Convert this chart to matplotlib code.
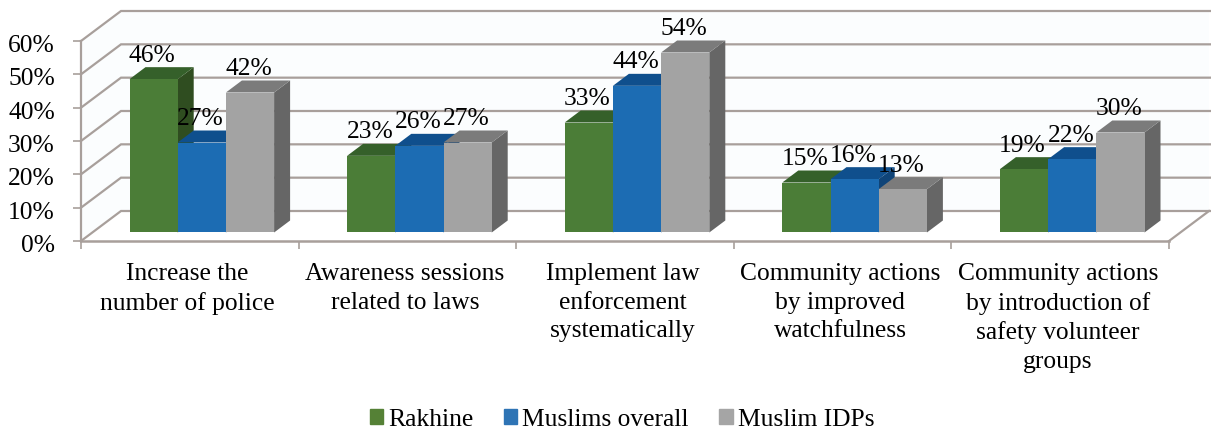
import matplotlib
matplotlib.use("Agg")
import matplotlib.pyplot as plt
from matplotlib.patches import Patch, Polygon
from matplotlib.transforms import ScaledTranslation

categories = ["Increase the\nnumber of police",
              "Awareness sessions\nrelated to laws",
              "Implement law\nenforcement\nsystematically",
              "Community actions\nby improved\nwatchfulness",
              "Community actions\nby introduction of\nsafety volunteer\ngroups"]
rakhine = [46, 23, 33, 15, 19]
muslims_overall = [27, 26, 44, 16, 22]
muslim_idps = [42, 27, 54, 13, 30]
series_names = ["Rakhine", "Muslims overall", "Muslim IDPs"]
y_ticks = [0, 10, 20, 30, 40, 50, 60]

# front, top, side, legend
green = ["#4B7D37", "#35602A", "#2F4D20", "#558136"]
blue = ["#1C6CB3", "#0F4F8D", "#0F4478", "#2E74B5"]
gray = ["#A3A3A3", "#7B7B7B", "#666666", "#A5A5A5"]
grid_col = "#A89F9B"

W, H = 1211, 429
x0, x1 = 81, 1169
y0, y1 = 241, 41
px_x = (x1 - x0) / 5.0
px_y = (y0 - y1) / 60.0
FS = 18.4

def dx(p):
    return p / px_x
def dy(p):
    return p / px_y

plt.rcParams['font.family'] = ['Liberation Serif', 'DejaVu Serif']
fig = plt.figure(figsize=(W / 100, H / 100), dpi=100)
ax = fig.add_axes([x0 / W, 1 - y0 / H, (x1 - x0) / W, (y0 - y1) / H])
ax.set_xlim(0, 5)
ax.set_ylim(0, 60)
for s in ax.spines.values():
    s.set_visible(False)
ax.patch.set_visible(False)

wall_x, wall_y = dx(40), dy(30)

# walls
ax.add_patch(Polygon([(0, 0), (wall_x, wall_y), (5 + wall_x, wall_y),
                      (5 + wall_x, 60 + wall_y), (wall_x, 60 + wall_y), (0, 60)],
                     fc="#FBFDFE", ec="none", clip_on=False, zorder=0))
ax.add_patch(Polygon([(0, 0), (wall_x, wall_y), (5 + wall_x + dx(5), wall_y), (5, 0)],
                     fc="white", ec="none", clip_on=False, zorder=0.5))
for t in y_ticks:
    ax.plot([0, wall_x, 5 + wall_x + dx(5)], [t, t + wall_y, t + wall_y], color=grid_col,
            lw=1.6, clip_on=False, zorder=1, solid_joinstyle="miter")
ax.plot([5, 5 + wall_x], [0, wall_y], color=grid_col, lw=1.6, clip_on=False, zorder=1)
ax.plot([0, 0], [0, 60], color=grid_col, lw=1.6, clip_on=False, zorder=1)
ax.plot([0, 5], [0, 0], color=grid_col, lw=1.8, clip_on=False, zorder=1)

# bars, left to right so the later ones hide the sides of the earlier ones
bar_w = dx(48.2)
bar_left = dx(48.5)
base_x, base_y = dx(11.3), dy(8.5)
depth_x, depth_y = dx(16), dy(12)
z = 2
for i in range(len(categories)):
    for j, (vals, cols) in enumerate(zip([rakhine, muslims_overall, muslim_idps], [green, blue, gray])):
        left = i + bar_left + j * bar_w
        top = vals[i] + base_y
        ax.add_patch(Polygon([(left + bar_w, base_y), (left + bar_w + depth_x, base_y + depth_y),
                              (left + bar_w + depth_x, top + depth_y), (left + bar_w, top)],
                             fc=cols[2], ec="none", clip_on=False, zorder=z))
        ax.add_patch(Polygon([(left, top), (left + depth_x, top + depth_y),
                              (left + bar_w + depth_x, top + depth_y), (left + bar_w, top)],
                             fc=cols[1], ec="none", clip_on=False, zorder=z))
        ax.bar(left, vals[i], bar_w, bottom=base_y, align="edge", color=cols[0], zorder=z, clip_on=False)
        z += 1

for i in range(len(categories)):
    for j, vals in enumerate([rakhine, muslims_overall, muslim_idps]):
        ax.annotate("%d%%" % vals[i], (i + bar_left + (j + 0.5) * bar_w, vals[i] + base_y),
                    xytext=(-1, 17), textcoords="offset points", ha="center", va="center",
                    fontsize=FS, color="black", zorder=50, annotation_clip=False)

ax.set_yticks(y_ticks)
ax.set_yticklabels(["%d%%" % t for t in y_ticks], fontsize=FS)
ax.tick_params(axis="y", length=5.8, width=1.2, color=grid_col, pad=13)
# labels sit a little under their ticks in the original
for lab in ax.get_yticklabels():
    lab.set_transform(lab.get_transform() + ScaledTranslation(0, -2.5 / 100, fig.dpi_scale_trans))
ax.set_xticks(range(6))
ax.set_xticklabels([])
ax.tick_params(axis="x", which="major", length=5.8, width=1.2, color=grid_col)
ax.set_xticks([i + 0.5 - dx(2.5) for i in range(5)], minor=True)
ax.set_xticklabels(categories, minor=True, fontsize=FS, linespacing=1.37)
ax.tick_params(axis="x", which="minor", length=0, pad=16)

handles = [Patch(color=c[3], label=n) for c, n in zip([green, blue, gray], series_names)]
fig.legend(handles=handles, ncol=3, loc="center", bbox_to_anchor=(622 / W, 1 - 420 / H),
           frameon=False, fontsize=FS, handlelength=0.52, handleheight=0.52,
           handletextpad=0.2, columnspacing=1.2)

fig.savefig("out.png", dpi=100)
